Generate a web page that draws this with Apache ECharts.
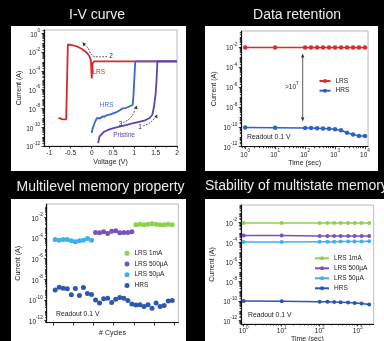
<!DOCTYPE html>
<html><head><meta charset="utf-8">
<script src="https://cdn.jsdelivr.net/npm/echarts@6/dist/echarts.min.js"></script>
<style>html,body{margin:0;padding:0;background:#000;}#c{width:384px;height:341px;}</style>
</head><body><div id="c"></div>
<script>
// ---------- Panel 1: I-V curve (voltage V, current A) ----------
const ivLrsV = [-0.78,-0.74,-0.68,-0.6,-0.57,-0.56,-0.5,-0.42,-0.32,-0.22,-0.12,-0.06,-0.02,0,0.02,0.05,2];
const ivLrsI = [1.0e-9,8e-10,7e-10,7e-10,8e-10,6.3e-2,6e-2,5e-2,3.5e-2,2e-2,9e-3,4e-3,1.3e-3,1.6e-5,6e-4,1e-3,1e-3];
const ivHrsV = [0,0.02,0.05,0.08,0.12,0.16,0.2,0.25,0.3,0.35,0.4,0.45,0.5,0.58,0.65,0.72,0.8,0.88,0.96,0.98,1.02,2];
const ivHrsI = [2.5e-11,7e-11,1.7e-10,4e-10,9e-10,1.1e-9,9e-10,1.4e-9,1.3e-9,1.9e-9,2.1e-9,2.5e-9,3e-9,4e-9,6e-9,1e-8,1.1e-8,1.6e-8,2.3e-8,3e-7,1e-3,1e-3];
const ivPriV = [0.15,0.18,0.22,0.29,0.4,0.49,0.6,0.8,0.95,1.11,1.25,1.35,1.42,1.46,1.5,1.52,1.54,2];
const ivPriI = [2e-12,1e-11,1.6e-11,3.3e-11,5.5e-11,7.5e-11,1e-10,1.7e-10,2.5e-10,3.8e-10,5.5e-10,9e-10,2e-9,1.5e-8,4e-7,1e-5,1e-3,1e-3];
const ivXTicks = [-1,-0.5,0,0.5,1,1.5,2];

// ---------- Panel 2: Data retention ----------
const retTime = [1,10,100,158,251,398,631,1000,1585,2512,3981,6310,10000];
const retLrs  = [9e-3,9e-3,9e-3,9e-3,9e-3,9e-3,9e-3,9e-3,9e-3,9e-3,9e-3,9e-3,9e-3];
const retHrs  = [8.3e-11,8e-11,7.6e-11,7.4e-11,7.1e-11,6.8e-11,6.3e-11,5.6e-11,4.5e-11,2.5e-11,1.7e-11,1.15e-11,1.15e-11];

// ---------- Panel 3: Multilevel memory property ----------
const mlCyc50  = [1,2,3,4,5,6,7,8,9,10];
const mlCyc500 = [11,12,13,14,15,16,17,18,19,20];
const mlCyc1m  = [21,22,23,24,25,26,27,28,29,30];
const mlCycHrs = [1,2,3,4,5,6,7,8,9,10,11,12,13,14,15,16,17,18,19,20,21,22,23,24,25,26,27,28,29,30];
const ml50  = [7.1e-5,6.3e-5,7.1e-5,7.1e-5,5.6e-5,4.5e-5,5.6e-5,6.3e-5,8.9e-5,6.3e-5];
const ml500 = [3.5e-4,3.2e-4,4e-4,2.8e-4,4.5e-4,5e-4,3.2e-4,3.5e-4,3.5e-4,4e-4];
const ml1m  = [2e-3,2.2e-3,2e-3,2.2e-3,2.5e-3,2.2e-3,2e-3,2e-3,2.2e-3,2e-3];
const mlHrs = [9.5e-10,1.7e-9,1.4e-9,1.2e-9,3.2e-10,1.3e-9,2.7e-10,1.6e-9,4.2e-10,3.4e-10,
               1e-10,5e-11,1.3e-10,1.5e-10,5.6e-11,1.2e-10,1.7e-10,1.5e-10,8.7e-11,4e-11,
               3.2e-11,3.4e-11,2.3e-11,3.4e-11,1.6e-11,5e-11,2.3e-11,2.9e-11,8.1e-11,8.7e-11];
const mlXTicks = [0.5,5.5,10.5,15.5,20.5,25.5,30.5];

// ---------- Panel 4: Stability of multistate memory ----------
const stTime = [1,10,100,160,240,355,560,830,1260,2000];
const st1m   = [9e-3,9e-3,9e-3,9e-3,9e-3,9e-3,9e-3,9e-3,9e-3,9e-3];
const st500  = [4.8e-4,4.8e-4,4.2e-4,4.2e-4,4.2e-4,4.2e-4,4.2e-4,4.2e-4,4.2e-4,4.2e-4];
const st50   = [1.05e-4,1.05e-4,1.1e-4,1.1e-4,1.12e-4,1.15e-4,1.15e-4,1.18e-4,1.2e-4,1.22e-4];
const stHrs  = [1e-10,9.3e-11,8.5e-11,8.3e-11,7.9e-11,7.4e-11,6.8e-11,6.1e-11,5.4e-11,4.4e-11];

const logDecades = [-12,-10,-8,-6,-4,-2,0];
const timeDecades = [0,1,2,3,4];

// ---------- helpers ----------
const FONT = '"Liberation Sans", Arial, sans-serif';
const L = Math.log10;
const SUP = {
  b:{fontSize:6.5,color:'#222',fontFamily:FONT,lineHeight:10,verticalAlign:'bottom'},
  s:{fontSize:4.6,color:'#222',fontFamily:FONT,lineHeight:5,verticalAlign:'top'}
};
const expFmt = v => '{b|10}{s|' + Math.round(v) + '}';
function minorLog(min, max){
  const out=[];
  for(let d=Math.floor(min)-1; d<=Math.ceil(max); d++){
    for(let k=2;k<=9;k++){ const v=d+L(k); if(v>min && v<max) out.push(v); }
  }
  return out;
}
const xAxes=[], yAxes=[], grids=[];
function addPanel(o){
  const gi = grids.length;
  grids.push({left:o.left, top:o.top, width:o.width, height:o.height, show:true,
    borderColor:'#a8a8a8', borderWidth:0.8, backgroundColor:'transparent', containLabel:false, outerBoundsMode:'none'});
  const xi = xAxes.length, yi = yAxes.length;
  const tickStyle = {color:'#111', width:0.8};
  xAxes.push({gridIndex:gi, type:'value', min:o.xmin, max:o.xmax, position:'bottom',
    axisLine:{onZero:false, lineStyle:{color:'#111', width:1}},
    axisTick:{customValues:o.xMajor, length:o.xTickLen||2.5, lineStyle:tickStyle},
    axisLabel:{show:o.xFmt!==null, customValues:o.xMajor, formatter:o.xFmt||undefined, fontSize:6.5, color:'#222',
      fontFamily:FONT, margin:o.xMargin, rich:SUP},
    splitLine:{show:false},
    name:o.xName, nameLocation:'middle', nameGap:o.xNameGap, nameTextStyle:{fontSize:7, color:'#222', fontFamily:FONT}});
  xAxes.push({gridIndex:gi, type:'value', min:o.xmin, max:o.xmax, position:'bottom',
    axisLine:{show:false, onZero:false},
    axisTick:{show:o.xMinor.length>0, customValues:o.xMinor.length?o.xMinor:undefined, length:1.5, lineStyle:tickStyle},
    axisLabel:{show:false}, splitLine:{show:false}});
  yAxes.push({gridIndex:gi, type:'value', min:o.ymin, max:o.ymax, position:'left',
    axisLine:{onZero:false, lineStyle:{color:'#111', width:1.2}},
    axisTick:{customValues:logDecades, length:2.5, lineStyle:tickStyle},
    axisLabel:{customValues:logDecades, formatter:expFmt, fontSize:6.5, color:'#222', fontFamily:FONT, margin:4, rich:SUP},
    splitLine:{show:false},
    name:'Current (A)', nameLocation:'middle', nameGap:o.yNameGap, nameTextStyle:{fontSize:7, color:'#222', fontFamily:FONT}});
  yAxes.push({gridIndex:gi, type:'value', min:o.ymin, max:o.ymax, position:'left',
    axisLine:{show:false, onZero:false},
    axisTick:{customValues:minorLog(o.ymin,o.ymax), length:1.5, lineStyle:tickStyle},
    axisLabel:{show:false}, splitLine:{show:false}});
  return {xi, yi};
}

const p1 = addPanel({left:44, top:30, width:133, height:116, xmin:-1.12, xmax:2, ymin:-12, ymax:0.35,
  xMajor:ivXTicks, xMinor:[-0.75,-0.25,0.25,0.75,1.25,1.75], xFmt:v=>String(v), xMargin:4,
  xName:'Voltage (V)', xNameGap:13, yNameGap:21});
const p2 = addPanel({left:241.3, top:31, width:126.7, height:115.7, xmin:-0.13, xmax:4.1, ymin:-12, ymax:-0.4,
  xMajor:timeDecades, xMinor:minorLog(-0.13,4.1), xFmt:expFmt, xMargin:2,
  xName:'Time (sec)', xNameGap:13, yNameGap:24});
const p3 = addPanel({left:46.7, top:204, width:131.6, height:118.7, xmin:-1.1, xmax:31.5, ymin:-12.2, ymax:-0.7,
  xMajor:mlXTicks, xMinor:[], xFmt:null, xTickLen:3, xMargin:4,
  xName:'# Cycles', xNameGap:7, yNameGap:25});
const p4 = addPanel({left:241, top:205, width:132.7, height:119, xmin:-0.07, xmax:3.42, ymin:-12.35, ymax:-0.2,
  xMajor:timeDecades, xMinor:minorLog(-0.07,3.42), xFmt:expFmt, xMargin:1,
  xName:'Time (sec)', xNameGap:10, yNameGap:25});

const toXY = (xs, ys, fx) => xs.map((x,i)=>[fx?fx(x):x, L(ys[i])]);

function lineS(p, name, xs, ys, fx, color, sym, symSize, width){
  return {type:'line', name, xAxisIndex:p.xi, yAxisIndex:p.yi, data:toXY(xs,ys,fx),
    symbol:sym||'none', symbolSize:symSize||0, showSymbol:!!sym, lineStyle:{width:width||1.5, color},
    itemStyle:{color}, silent:true, z:3};
}
function scatterS(p, name, xs, ys, color){
  return {type:'scatter', name, xAxisIndex:p.xi, yAxisIndex:p.yi, data:toXY(xs,ys), symbolSize:5,
    itemStyle:{color, opacity:1}, silent:true, z:3};
}

const C = {red:'#d42a2a', blue:'#3a66c9', purple:'#5a44b3',
  r2:'#dc2b2b', b2:'#2f62c4', green:'#8fd14f', vio:'#7b52b6', cyan:'#3fb0ea', navy:'#2c57ad'};

const series = [
  lineS(p1,'iv-lrs',ivLrsV,ivLrsI,null,C.red,null,0,1.8),
  lineS(p1,'iv-hrs',ivHrsV,ivHrsI,null,C.blue,null,0,1.8),
  lineS(p1,'iv-pri',ivPriV,ivPriI,null,C.purple,null,0,1.8),
  lineS(p2,'LRS',retTime,retLrs,L,C.r2,'circle',4.5,1.5),
  lineS(p2,'HRS',retTime,retHrs,L,C.b2,'circle',4.5,1.5),
  scatterS(p3,'LRS 1mA',mlCyc1m,ml1m,C.green),
  scatterS(p3,'LRS 500µA',mlCyc500,ml500,C.vio),
  scatterS(p3,'LRS 50µA',mlCyc50,ml50,C.cyan),
  scatterS(p3,'HRS ',mlCycHrs,mlHrs,C.navy),
  lineS(p4,'LRS 1mA ',stTime,st1m,L,C.green,'circle',4,1.5),
  lineS(p4,'LRS 500µA ',stTime,st500,L,C.vio,'circle',4,1.5),
  lineS(p4,'LRS 50µA ',stTime,st50,L,C.cyan,'circle',4,1.5),
  lineS(p4,'HRS  ',stTime,stHrs,L,C.navy,'circle',4,1.5)
];

const legTxt = {fontSize:6.5, color:'#222', fontFamily:FONT, lineHeight:8, padding:0};
const legends = [
  {data:['LRS','HRS'], left:318.5, top:77, orient:'vertical', itemWidth:11, itemHeight:5, itemGap:1.7, padding:0, selectedMode:false, textStyle:legTxt},
  {data:['LRS 1mA','LRS 500µA','LRS 50µA','HRS '], left:124.5, top:249.3, orient:'vertical', itemWidth:5, itemHeight:5, itemGap:2.7, padding:0, selectedMode:false, textStyle:legTxt},
  {data:['LRS 1mA ','LRS 500µA ','LRS 50µA ','HRS  '], left:314, top:254.3, orient:'vertical', itemWidth:14, itemHeight:5, itemGap:2, padding:0, selectedMode:false, textStyle:legTxt}
];

function txt(x,y,text,fill,size,align){
  return {type:'text', x, y, z:10, silent:true, style:{text, fill, font:(size||6.5)+'px '+FONT, textAlign:align||'center', textVerticalAlign:'middle'}};
}
function dash(points){
  return {type:'polyline', z:10, silent:true, shape:{points, smooth:0.3}, style:{stroke:'#333', lineWidth:0.8, lineDash:[1.8,1.2], fill:null}};
}
function head(points){
  return {type:'polygon', z:10, silent:true, shape:{points}, style:{fill:'#333', stroke:null}};
}
const box = (x,y,w,h)=>({type:'rect', z:-10, silent:true, shape:{x,y,width:w,height:h}, style:{fill:'#fff'}});
const titleFont = '14px ' + FONT;
const ttl = (x,y,text,align)=>({type:'text', x, y, silent:true, style:{text, fill:'#ececec', font:titleFont, textAlign:align||'center', textVerticalAlign:'middle'}});

const graphics = [
  box(11,26,175,145), box(205,26,173,145), box(11,199,175,150), box(205,199,185,150),
  ttl(97,15,'I-V curve'), ttl(297,15,'Data retention'), ttl(100.5,187,'Multilevel memory property'), ttl(205,186.5,'Stability of multistate memory','left'),
  // panel 1 annotations
  txt(92.5,72,'LRS',C.red,6.5,'left'), txt(106.7,105,'HRS','#4a6fd0'), txt(124,135,'Pristine',C.purple),
  txt(111,56.5,'2','#222'), txt(120.5,124,'3','#222'), txt(140,127.5,'1','#222'),
  dash([[84,44.5],[88,48],[90.5,53],[94,56.5],[108,56.5]]), head([[82.3,42.3],[86,43.8],[83.6,46.6]]),
  dash([[123,122.5],[128,120],[132,116],[135,110]]), head([[136.6,105.5],[133.8,108.6],[137.6,109.2]]),
  dash([[143,126],[148,124],[152,121],[155.3,117.5]]), head([[157.2,114.5],[154.2,116.4],[157.4,118.6]]),
  // panel 2 annotations
  {type:'line', z:10, silent:true, shape:{x1:302.7,y1:56,x2:302.7,y2:119}, style:{stroke:'#333', lineWidth:0.8}},
  head([[302.7,53.5],[301,57.5],[304.4,57.5]]), head([[302.7,121.5],[301,117.5],[304.4,117.5]]),
  {type:'text', x:285, y:86, z:10, silent:true, style:{text:'{a|>10}{b|7}', textVerticalAlign:'middle',
    rich:{a:{fontSize:6.5,fill:'#222',fontFamily:FONT,lineHeight:10,verticalAlign:'bottom'}, b:{fontSize:4.6,fill:'#222',fontFamily:FONT,lineHeight:5,verticalAlign:'top'}}}},
  txt(247,136.7,'Readout 0.1 V','#222',6.8,'left'),
  txt(56,314,'Readout 0.1 V','#222',6.8,'left'),
  txt(248,315,'Readout 0.1 V','#222',6.8,'left')
];

const chart = echarts.init(document.getElementById('c'), null, {renderer:'canvas'});
chart.setOption({
  backgroundColor:'#000', animation:false,
  grid:grids, xAxis:xAxes, yAxis:yAxes, series, legend:legends,
  graphic:{elements:graphics}
});
</script></body></html>
